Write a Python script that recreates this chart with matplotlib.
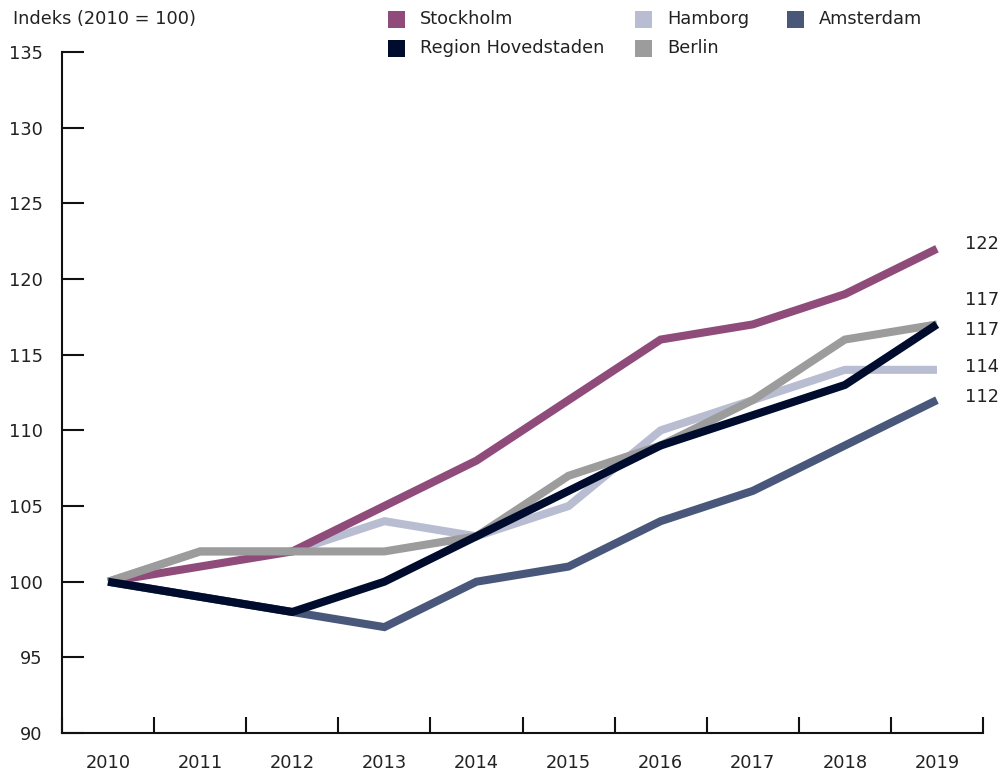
import matplotlib
matplotlib.use("Agg")
import matplotlib.pyplot as plt
from matplotlib.patches import Rectangle

plt.rcParams["font.family"] = ["DejaVu Sans"]

YEARS = ["2010", "2011", "2012", "2013", "2014", "2015", "2016", "2017", "2018", "2019"]
STOCKHOLM = [100, 101, 102, 105, 108, 112, 116, 117, 119, 122]
HAMBORG = [100, 102, 102, 104, 103, 105, 110, 112, 114, 114]
AMSTERDAM = [100, 99, 98, 97, 100, 101, 104, 106, 109, 112]
HOVEDSTADEN = [100, 99, 98, 100, 103, 106, 109, 111, 113, 117]
BERLIN = [100, 102, 102, 102, 103, 107, 109, 112, 116, 117]

# end labels, nudged apart so the two 117s don't collide
END_LABELS = [("122", 122.3), ("117", 118.6), ("117", 116.6), ("114", 114.2), ("112", 112.2)]

TEXT = "#222222"
FS = 12.8
colors = {
    "Stockholm": "#8f4b79",
    "Hamborg": "#b8bdd1",
    "Amsterdam": "#48577a",
    "Region Hovedstaden": "#000c2e",
    "Berlin": "#9c9c9c",
}

W, H = 1000, 773
fig = plt.figure(figsize=(W / 100, H / 100), dpi=100)
ax = fig.add_axes([0.062, 0.0517, 0.921, 0.881])

x = list(range(len(YEARS)))
kw = dict(lw=5.8, solid_joinstyle="miter", solid_capstyle="butt")
# drawing order = z order in the original
ax.plot(x, AMSTERDAM, color=colors["Amsterdam"], **kw)
ax.plot(x, HAMBORG, color=colors["Hamborg"], **kw)
ax.plot(x, STOCKHOLM, color=colors["Stockholm"], **kw)
ax.plot(x, BERLIN, color=colors["Berlin"], **kw)
ax.plot(x, HOVEDSTADEN, color=colors["Region Hovedstaden"], **kw)

for txt, yv in END_LABELS:
    ax.text(9.3, yv, txt, fontsize=FS, color=TEXT, va="center", ha="left")

ax.set_xlim(-0.5, 9.5)
ax.set_ylim(90, 135)
ax.set_yticks(range(90, 136, 5))
ax.tick_params(axis="y", direction="in", length=16, width=1.5, pad=14,
               labelsize=FS, labelcolor=TEXT, color="#111111")
ax.set_xticks(x)
ax.set_xticklabels(YEARS)
ax.set_xticks([i - 0.5 for i in range(len(YEARS) + 1)], minor=True)
ax.tick_params(axis="x", which="major", length=0, pad=15, labelsize=FS, labelcolor=TEXT)
ax.tick_params(axis="x", which="minor", direction="in", length=11.5, width=1.5, color="#111111")

for s in ["top", "right"]:
    ax.spines[s].set_visible(False)
for s in ["left", "bottom"]:
    ax.spines[s].set_linewidth(1.5)
    ax.spines[s].set_color("#111111")

fig.text(13 / W, 1 - 19 / H, "Indeks (2010 = 100)", fontsize=FS, color=TEXT, va="center", ha="left")

# legend laid out by hand: (name, square left px, row centre px)
legend_items = [
    ("Stockholm", 388, 19),
    ("Region Hovedstaden", 388, 48),
    ("Hamborg", 635, 19),
    ("Berlin", 635, 48),
    ("Amsterdam", 787, 19),
]
sq = 17
for name, lx, cy in legend_items:
    fig.add_artist(Rectangle((lx / W, 1 - (cy + sq / 2) / H), sq / W, sq / H,
                             transform=fig.transFigure, facecolor=colors[name], edgecolor="none"))
    fig.text((lx + 32) / W, 1 - cy / H, name, fontsize=FS, color=TEXT, va="center", ha="left")

fig.savefig("out.png", dpi=100)
